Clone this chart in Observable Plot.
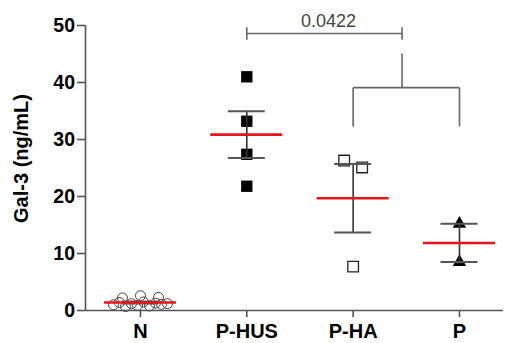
<!DOCTYPE html>
<html><head><meta charset="utf-8">
<script src="https://cdn.jsdelivr.net/npm/d3@7"></script>
<script src="https://cdn.jsdelivr.net/npm/@observablehq/plot@0.6"></script>
<style>
html,body{margin:0;padding:0;background:#fff;}
#chart svg{max-width:none;display:block;}
</style></head><body><div id="chart"></div>
<script>
// ---- data ----
const groups = ["N", "P-HUS", "P-HA", "P"];
const valuesN    = [2.2, 2.6, 2.3, 1.0, 1.4, 0.7, 1.2, 0.9, 1.5, 0.8, 1.3, 1.1, 1.2];
const valuesPHUS = [41.0, 33.2, 27.4, 21.8];
const valuesPHA  = [26.3, 25.1, 7.7];
const valuesP    = [15.2, 8.5];
const yTicks = [0, 10, 20, 30, 40, 50];
const yLabel = "Gal-3 (ng/mL)";
const pLabel = "0.0422";
// bracket annotation (group index / value units)
const bracketFrom = 1, bracketTo = 2.46, bracketY = 48.6, bracketEnd = 1.1;
const joinTop = 45.1, joinY = 39.1, joinBottom = 32.3, joinFrom = 2, joinTo = 3;

// ---- layout ----
const W = 507, H = 343, ML = 85, MR = 4, MT = 25, MB = 33;
const xDomain = [-0.517, 3.414];
const pxPerX = (W - ML - MR) / (xDomain[1] - xDomain[0]);
const px = p => p / pxPerX;

const allValues = [valuesN, valuesPHUS, valuesPHA, valuesP];
const points = [];
allValues.forEach((vals, i) => {
  const bins = d3.group(vals.map((v, k) => ({v, k})), d => Math.floor(d.v / 1.9));
  for (const [, arr] of bins) {
    const n = arr.length;
    const step = n > 1 ? Math.min(18, 54 / (n - 1)) : 0;
    arr.forEach((d, j) => points.push({g: groups[i], i, v: d.v, x: i + px((j - (n - 1) / 2) * step)}));
  }
});
const stats = allValues.map((vals, i) => {
  const m = d3.mean(vals);
  const se = d3.deviation(vals) / Math.sqrt(vals.length);
  return {i, m, lo: m - se, hi: m + se};
});

const segs = [
  {x1: bracketFrom, y1: bracketY, x2: bracketTo, y2: bracketY},
  {x1: bracketFrom, y1: bracketY - bracketEnd, x2: bracketFrom, y2: bracketY + bracketEnd},
  {x1: bracketTo, y1: bracketY - bracketEnd, x2: bracketTo, y2: bracketY + bracketEnd},
  {x1: bracketTo, y1: joinTop, x2: bracketTo, y2: joinY},
  {x1: joinFrom, y1: joinY, x2: joinTo, y2: joinY},
  {x1: joinFrom, y1: joinY, x2: joinFrom, y2: joinBottom},
  {x1: joinTo, y1: joinY, x2: joinTo, y2: joinBottom}
];

const axisGray = "#555";
const chart = Plot.plot({
  width: W, height: H,
  marginLeft: ML, marginRight: MR, marginTop: MT, marginBottom: MB,
  style: {fontFamily: "'Liberation Sans', Arial, sans-serif", color: "black", background: "white"},
  x: {type: "linear", domain: xDomain, axis: null},
  y: {domain: [0, 50], axis: null},
  marks: [
    Plot.ruleX([xDomain[0]], {y1: 0, y2: 50, stroke: axisGray, strokeWidth: 1.6}),
    Plot.ruleY([0], {x1: xDomain[0], x2: xDomain[1], stroke: axisGray, strokeWidth: 1.6}),
    Plot.axisY(yTicks, {tickSize: 8, tickPadding: 2.5, fontSize: 19.5, fontWeight: "bold", stroke: axisGray, strokeWidth: 1.6, label: null}),
    Plot.axisX(d3.range(groups.length), {tickFormat: i => groups[i], tickSize: 7, tickPadding: 6, fontSize: 20, fontWeight: "bold", stroke: axisGray, strokeWidth: 1.6, label: null}),
    Plot.text([yLabel], {frameAnchor: "left", text: d => d, rotate: -90, dx: -63.5, dy: -9.5, fontSize: 20, fontWeight: "bold", textAnchor: "middle"}),
    // points
    Plot.dot(points.filter(d => d.g === "N"), {x: "x", y: "v", r: 5, symbol: "circle", fill: "none", stroke: "#444", strokeWidth: 1}),
    Plot.dot(points.filter(d => d.g === "P-HUS"), {x: "x", y: "v", r: 6.4, symbol: "square", fill: "black", stroke: "none"}),
    Plot.dot(points.filter(d => d.g === "P-HA"), {x: "x", y: "v", r: 6, symbol: "square", fill: "white", stroke: "#222", strokeWidth: 1.3}),
    Plot.dot(points.filter(d => d.g === "P"), {x: "x", y: "v", r: 5, symbol: "triangle", fill: "black", stroke: "none"}),
    // error bars (mean ± SEM)
    Plot.ruleX(stats, {x: "i", y1: "lo", y2: "hi", stroke: "#333", strokeWidth: 1.6}),
    Plot.ruleY(stats, {y: "hi", x1: d => d.i - px(18.5), x2: d => d.i + px(18.5), stroke: "#555", strokeWidth: 2}),
    Plot.ruleY(stats, {y: "lo", x1: d => d.i - px(18.5), x2: d => d.i + px(18.5), stroke: "#555", strokeWidth: 2}),
    Plot.ruleY(stats, {y: "m", x1: d => d.i - px(36), x2: d => d.i + px(36), stroke: "#e8141c", strokeWidth: 2.6}),
    // significance bracket
    Plot.link(segs, {x1: "x1", y1: "y1", x2: "x2", y2: "y2", stroke: "#666", strokeWidth: 1.6}),
    Plot.text([pLabel], {x: (bracketFrom + bracketTo) / 2, y: bracketY, text: d => d, dx: 4, dy: -6, lineAnchor: "bottom", fontSize: 18, fill: "#444"})
  ]
});
document.getElementById("chart").appendChild(chart);
</script></body></html>
